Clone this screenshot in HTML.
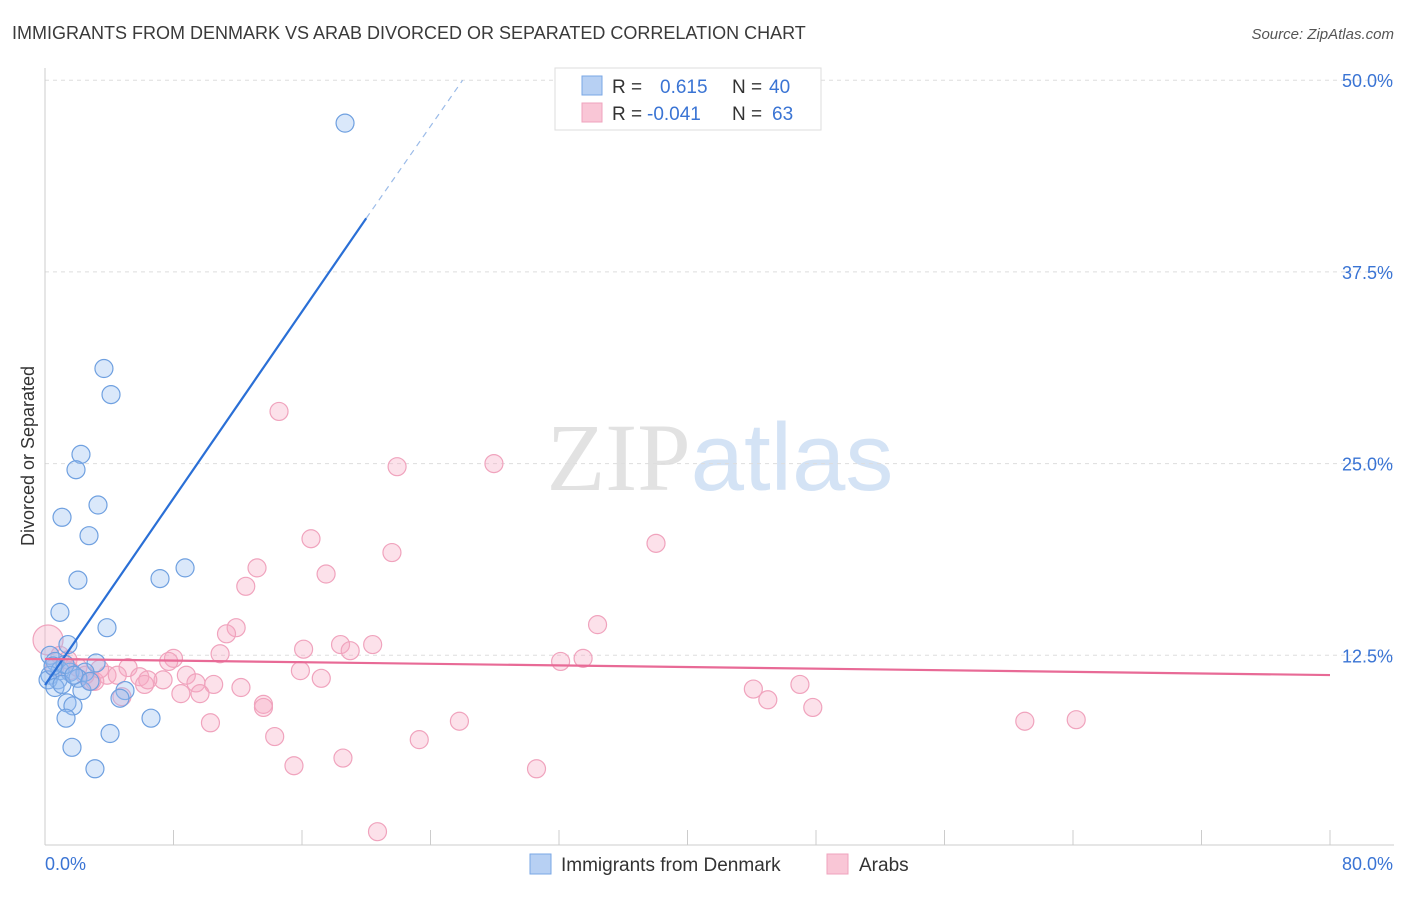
<!DOCTYPE html>
<html><head><meta charset="utf-8"><style>
body{margin:0;background:#fff;font-family:"Liberation Sans",sans-serif}
svg text{font-family:"Liberation Sans",sans-serif}
</style></head><body>
<svg id="chart" width="1406" height="892" xmlns="http://www.w3.org/2000/svg">
<text x="12" y="39" font-size="18" fill="#3a3a3a">IMMIGRANTS FROM DENMARK VS ARAB DIVORCED OR SEPARATED CORRELATION CHART</text>
<text x="1394" y="39" font-size="15" fill="#555" text-anchor="end" font-style="italic">Source: ZipAtlas.com</text>
<text x="720" y="490" font-size="96" text-anchor="middle"><tspan fill="#e2e2e2" font-family="Liberation Serif">ZIP</tspan><tspan fill="#d4e3f5">atlas</tspan></text>
<text transform="translate(34,456) rotate(-90)" font-size="18" fill="#333" text-anchor="middle">Divorced or Separated</text>
<g id="grid"></g><g id="axes"></g><g id="pts"></g><g id="lines"></g>
<g>
<rect x="555" y="68" width="266" height="62" fill="#fff" stroke="#ddd"/>
<rect x="582" y="76" width="20" height="19" fill="#b7d0f3" stroke="#7aa7e6"/>
<rect x="582" y="103" width="20" height="19" fill="#f9c6d6" stroke="#efa3bd"/>
<text x="612" y="93" font-size="19" fill="#333">R =</text><text x="660" y="93" font-size="19" fill="#3a74d4">0.615</text>
<text x="732" y="93" font-size="19" fill="#333">N =</text><text x="769" y="93" font-size="19" fill="#3a74d4">40</text>
<text x="612" y="120" font-size="19" fill="#333">R =</text><text x="647" y="120" font-size="19" fill="#3a74d4">-0.041</text>
<text x="732" y="120" font-size="19" fill="#333">N =</text><text x="772" y="120" font-size="19" fill="#3a74d4">63</text>
</g>
<g>
<rect x="530" y="854" width="21" height="20" fill="#b7d0f3" stroke="#7aa7e6"/>
<text x="561" y="871" font-size="19" fill="#333">Immigrants from Denmark</text>
<rect x="827" y="854" width="21" height="20" fill="#f9c6d6" stroke="#efa3bd"/>
<text x="859" y="871" font-size="19" fill="#333">Arabs</text>
</g>
</svg>
<script>
const yTicks=[12.5,25,37.5,50];
const yTickLabels=["12.5%","25.0%","37.5%","50.0%"];
const xTicks=[0,8,16,24,32,40,48,56,64,72,80];
const blueX=[18.68,3.67,4.11,2.24,1.93,3.30,1.06,2.74,2.05,8.72,7.16,0.93,3.86,1.43,0.31,0.62,3.18,0.93,1.56,0.31,2.49,2.05,0.81,0.19,0.62,2.30,4.98,4.67,1.37,1.74,1.31,6.60,4.05,1.68,3.11,1.06,1.25,0.5,1.8,2.8];
const blueY=[47.2,31.2,29.5,25.6,24.6,22.3,21.5,20.3,17.4,18.2,17.5,15.3,14.3,13.2,12.5,12.1,12.0,11.5,11.4,11.2,11.4,11.0,10.9,10.9,10.4,10.2,10.2,9.7,9.4,9.2,8.4,8.4,7.4,6.5,5.1,10.6,11.9,11.8,11.2,10.8];
const pinkX=[14.57,21.92,27.95,38.04,16.56,21.6,13.2,17.5,12.5,34.4,11.9,11.3,20.4,18.4,16.1,19.0,10.9,8.0,7.7,33.5,32.1,5.17,15.9,8.8,3.86,5.9,7.35,6.4,9.4,17.2,10.5,3.1,6.2,12.2,8.46,9.65,44.1,47.0,45.0,13.6,13.6,47.8,4.79,10.3,25.8,61.0,64.2,14.3,23.3,15.5,18.55,30.6,20.7,0.19,0.93,1.43,2.05,2.5,1.56,2.9,4.5,0.6,3.4];
const pinkY=[28.4,24.8,25.0,19.8,20.1,19.2,18.2,17.8,17.0,14.5,14.3,13.9,13.2,13.2,12.9,12.8,12.6,12.3,12.1,12.3,12.1,11.7,11.5,11.2,11.2,11.1,10.9,10.9,10.7,11.0,10.6,10.8,10.6,10.4,10.0,10.0,10.3,10.6,9.6,9.3,9.1,9.1,9.8,8.1,8.2,8.2,8.3,7.2,7.0,5.3,5.8,5.1,1.0,13.5,12.5,12.2,11.7,11.2,11.5,10.8,11.2,11.7,11.6];
const blueLine=[0,10.56,20.0,41.0,26.0,50.0];
const pinkLine=[0,12.26,80,11.21];
const X0=45,X1=1330,Y0=847,YS=191.7/12.5;
const sx=v=>X0+(v/80)*(X1-X0), sy=v=>Y0-v*YS;
const NS="http://www.w3.org/2000/svg";
function mk(p,t,a){const e=document.createElementNS(NS,t);for(const k in a)e.setAttribute(k,a[k]);p.appendChild(e);return e;}
const grid=document.getElementById('grid'),axes=document.getElementById('axes'),pts=document.getElementById('pts'),lines=document.getElementById('lines');
yTicks.forEach((v,i)=>{
 const l=mk(grid,'line',{x1:45,x2:1394,y1:sy(v),y2:sy(v),stroke:'#ddd','stroke-dasharray':'4,4'});
 
 
 const t=mk(grid,'text',{x:1393,y:sy(v)+7,'font-size':18,fill:'#3a74d4','text-anchor':'end'});
 t.textContent=yTickLabels[i];
 
 
});
const ya=mk(axes,'line',{x1:45,x2:45,y1:68,y2:845,stroke:'#ccc'});


const xa=mk(axes,'line',{x1:45,x2:1394,y1:845,y2:845,stroke:'#ccc'});


xTicks.forEach(v=>{
 const t=mk(axes,'line',{x1:sx(v),x2:sx(v),y1:830,y2:845,stroke:'#ccc'});
 
 
});
const xl0=mk(axes,'text',{x:45,y:870,'font-size':18,fill:'#3a74d4'});xl0.textContent='0.0%';


const xl1=mk(axes,'text',{x:1393,y:870,'font-size':18,fill:'#3a74d4','text-anchor':'end'});xl1.textContent='80.0%';


pinkX.forEach((v,i)=>{
 const c=mk(pts,'circle',{cx:sx(v),cy:sy(pinkY[i]),r:i==53?15:9,fill:'rgba(246,170,196,0.35)',stroke:'#f0a3bd','stroke-width':1.2});
 
 
});
blueX.forEach((v,i)=>{
 const c=mk(pts,'circle',{cx:sx(v),cy:sy(blueY[i]),r:9,fill:'rgba(150,190,240,0.35)',stroke:'#6fa0e0','stroke-width':1.2});
 
 
});
const bl=mk(lines,'line',{x1:sx(blueLine[0]),y1:sy(blueLine[1]),x2:sx(blueLine[2]),y2:sy(blueLine[3]),stroke:'#2a6fd6','stroke-width':2.2});


const bd=mk(lines,'line',{x1:sx(blueLine[2]),y1:sy(blueLine[3]),x2:sx(blueLine[4]),y2:sy(blueLine[5]),stroke:'#9bbbe8','stroke-width':1.2,'stroke-dasharray':'6,5'});


const pl=mk(lines,'line',{x1:sx(pinkLine[0]),y1:sy(pinkLine[1]),x2:sx(pinkLine[2]),y2:sy(pinkLine[3]),stroke:'#e86a96','stroke-width':2.2});


</script>
</body></html>
